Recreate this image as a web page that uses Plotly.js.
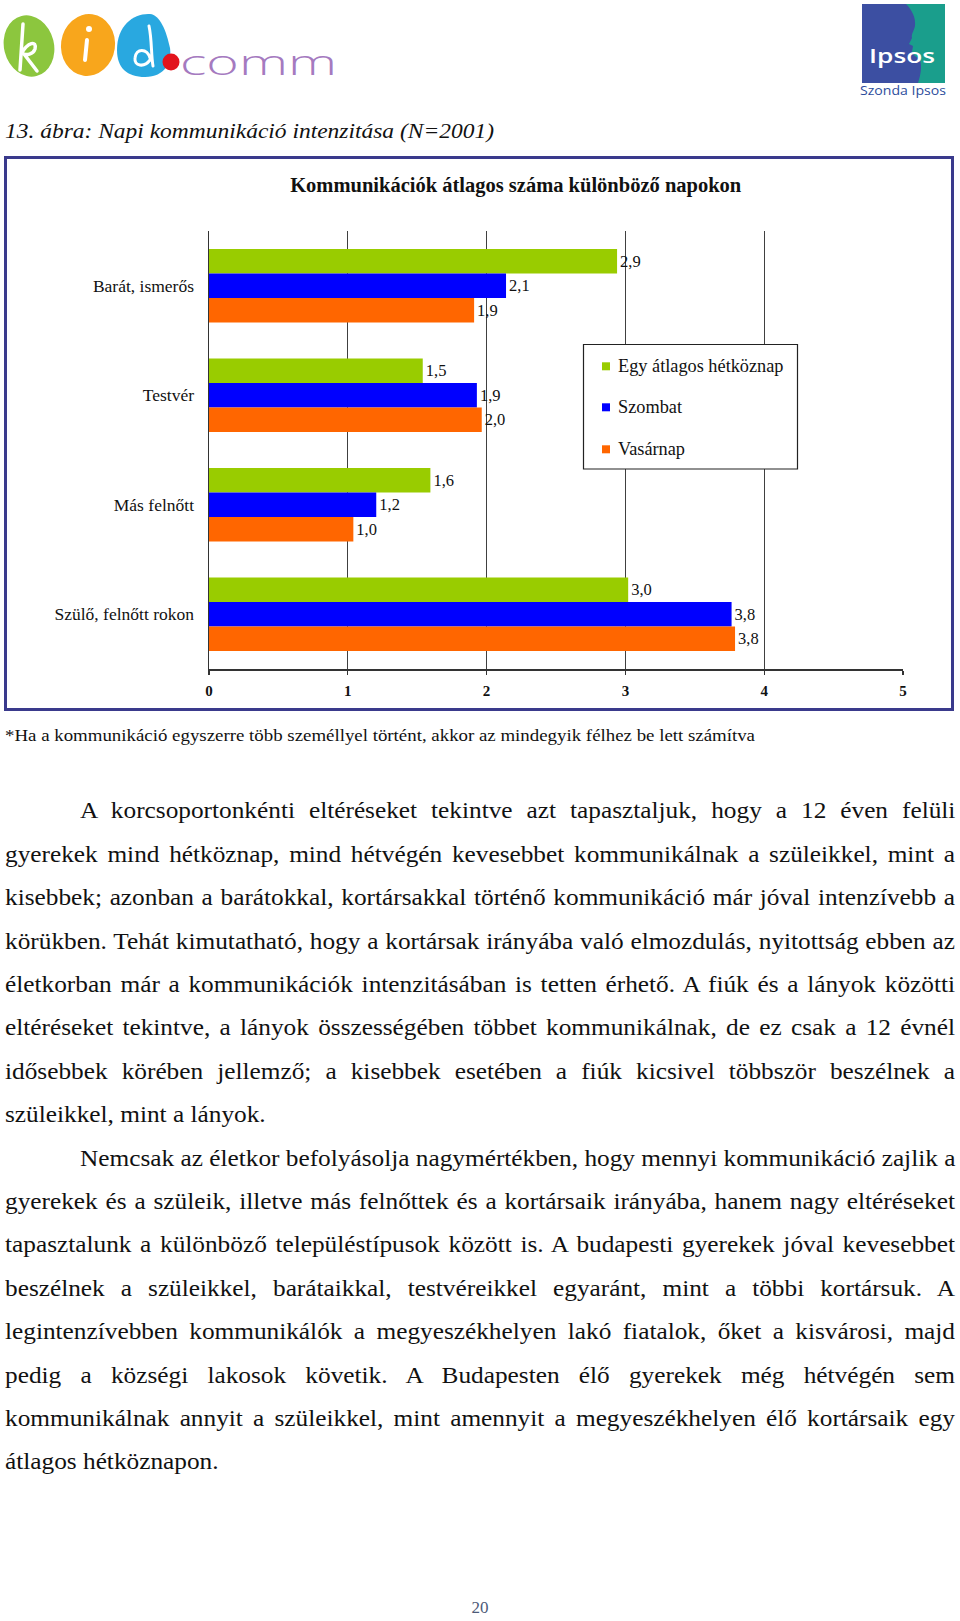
<!DOCTYPE html>
<html>
<head>
<meta charset="utf-8">
<script src="https://cdn.plot.ly/plotly-3.0.1.min.js"></script>
<style>
  html, body { margin:0; padding:0; background:#fff; }
  body { width:960px; height:1621px; position:relative; overflow:hidden; font-family:"Liberation Serif", serif; color:#111; }
  .abs { position:absolute; white-space:pre; }
  .fit span, .ln span { display:inline-block; transform-origin:0 50%; white-space:pre; }
  #frame { position:absolute; left:4px; top:156px; width:950px; height:555px; border:3px solid #3a3a8c; box-sizing:border-box; }
  #chart { position:absolute; left:0; top:0; width:960px; height:720px; }
  .ln { position:absolute; font-size:24px; line-height:43.4px; height:43.4px; white-space:pre; }
</style>
</head>
<body>
<svg width="960" height="110" style="position:absolute;left:0;top:0">
  <ellipse cx="29" cy="46" rx="25" ry="31" transform="rotate(-14 29 46)" fill="#8cc63e"/>
  <ellipse cx="88" cy="45" rx="27" ry="31" transform="rotate(8 88 45)" fill="#f8a61c"/>
  <path d="M117,50 C117,25 134,13 150,14 C160,15 166,30 170,48 C172,62 165,77 145,77 C127,77 117,68 117,50 Z" fill="#29a8e0"/>
  <path d="M23,24 L20,70 M21,54 C28,42 37,40 35,49 C33,55 26,55 24,54 L37,71" stroke="#fff" stroke-width="3.5" fill="none" stroke-linecap="round" stroke-linejoin="round"/>
  <path d="M87,40 L85,60" stroke="#fff" stroke-width="4" fill="none" stroke-linecap="round"/>
  <circle cx="89" cy="29" r="3" fill="#fff"/>
  <path d="M150,58 C147,48 136,48 135,58 C134,66 144,68 150,60 M149,26 C152,40 151,55 153,66" stroke="#fff" stroke-width="3" fill="none" stroke-linecap="round"/>
  <circle cx="171" cy="62" r="8.5" fill="#e2141d"/>
  <text x="180" y="75" font-family="Open Sans" font-weight="300" font-size="34" fill="#a57abf" textLength="157" lengthAdjust="spacingAndGlyphs">comm</text>
  <rect x="862" y="4" width="83" height="79" fill="#3c4fa2"/>
  <path d="M945,4 L906,4 C912,10 916,18 915,26 C914,31 911,34 912,38 L909,44 L913,46 L912,52 C913,56 918,57 920,60 C922,66 921,74 918,83 L945,83 Z" fill="#1a9e8c"/>
  <text x="902" y="63" font-family="Open Sans" font-weight="600" font-size="20" fill="#fff" text-anchor="middle" textLength="66" lengthAdjust="spacingAndGlyphs">Ipsos</text>
  <text x="903" y="95" font-family="Open Sans" font-size="12" fill="#2d4d9c" text-anchor="middle" textLength="86" lengthAdjust="spacingAndGlyphs">Szonda Ipsos</text>
</svg>

<div class="abs fit" data-w="489" style="left:5px;top:115.5px;font-size:20px;line-height:30px;font-style:italic;"><span>13. ábra: Napi kommunikáció intenzitása (N=2001)</span></div>

<div id="frame"></div>
<div id="chart"></div>

<div class="abs fit" data-w="750" style="left:5px;top:724px;font-size:16px;line-height:24px;"><span>*Ha a kommunikáció egyszerre több személlyel történt, akkor az mindegyik félhez be lett számítva</span></div>

<div id="bodytext"></div>

<div class="abs" style="left:0;width:960px;text-align:center;top:1598px;font-size:17px;line-height:20px;color:#4d5a78;">20</div>

<script>
// ---- chart data ----
const categories = ["Barát, ismerős", "Testvér", "Más felnőtt", "Szülő, felnőtt rokon"];
const seriesNames = ["Egy átlagos hétköznap", "Szombat", "Vasárnap"];
const weekday  = [2.94, 1.54, 1.595, 3.02];
const saturday = [2.14, 1.93, 1.205, 3.765];
const sunday   = [1.91, 1.965, 1.04, 3.79];
const xTicks   = [0, 1, 2, 3, 4, 5];
const seriesColors = ["#99cc00", "#0000ff", "#ff6600"];
const chartTitle = "Kommunikációk átlagos száma különböző napokon";

const fmt = v => v.toFixed(1).replace(".", ",");
const seriesValues = [weekday, saturday, sunday];

const traces = seriesValues.map((vals, i) => ({
  type: "bar",
  orientation: "h",
  name: seriesNames[i],
  y: categories,
  x: vals,
  text: vals.map(fmt),
  textposition: "outside",
  constraintext: "none",
  cliponaxis: false,
  textfont: { family: "Liberation Serif", size: 16.5, color: "#111" },
  marker: { color: seriesColors[i], line: { width: 0 } },
  hoverinfo: "none"
}));

// plot area in pixels (for decoration placement)
const PL = 209, PR = 903, PT = 231, PB = 669;
const px = x => (x - PL) / (PR - PL);
const py = y => (PB - y) / (PB - PT);

const legendY = [366.3, 407.3, 449.3];
const shapes = [{
  type: "rect", xref: "paper", yref: "paper",
  x0: px(583.5), x1: px(797.5), y0: py(469), y1: py(344.5),
  line: { color: "#222", width: 1.2 }, fillcolor: "#fff", layer: "above"
}];
const annotations = [];
seriesNames.forEach((n, i) => {
  shapes.push({
    type: "rect", xref: "paper", yref: "paper",
    x0: px(602), x1: px(610), y0: py(legendY[i] + 4), y1: py(legendY[i] - 4),
    line: { width: 0 }, fillcolor: seriesColors[i], layer: "above"
  });
  annotations.push({
    xref: "paper", yref: "paper", x: px(616), y: py(legendY[i]),
    xanchor: "left", yanchor: "middle", showarrow: false, text: n,
    font: { family: "Liberation Serif", size: 18.3, color: "#111" }
  });
});

const layout = {
  width: 960, height: 720,
  margin: { l: PL, r: 960 - PR, t: PT, b: 720 - PB, pad: 0 },
  paper_bgcolor: "rgba(0,0,0,0)", plot_bgcolor: "rgba(0,0,0,0)",
  barmode: "group", bargap: 0.33, bargroupgap: 0,
  showlegend: false,
  font: { family: "Liberation Serif", color: "#111" },
  title: {
    text: chartTitle,
    font: { family: "Liberation Serif", size: 20.5, weight: "bold", color: "#111" },
    xref: "container", yref: "container",
    x: 515.7 / 960, xanchor: "center",
    y: 1 - 185 / 720, yanchor: "middle"
  },
  xaxis: {
    range: [0, 5], tickvals: xTicks, ticktext: xTicks.map(String),
    showgrid: true, gridcolor: "#404040", gridwidth: 1.3,
    showline: true, linecolor: "#333", linewidth: 1.5,
    ticks: "outside", ticklen: 4, tickcolor: "#333", tickwidth: 1.3,
    zeroline: false, ticklabelstandoff: 3,
    tickfont: { family: "Liberation Serif", size: 15, weight: "bold", color: "#111" },
    fixedrange: true
  },
  yaxis: {
    type: "category", autorange: "reversed",
    showline: true, linecolor: "#333", linewidth: 1.5,
    showgrid: false, ticks: "", ticklabelstandoff: 10,
    tickfont: { family: "Liberation Serif", size: 17.5, color: "#111" },
    fixedrange: true
  },
  shapes: shapes,
  annotations: annotations
};

Plotly.newPlot("chart", traces, layout, { displayModeBar: false, staticPlot: true });

// ---- body text ----
const bodyLines = [
  ["A korcsoportonkénti eltéréseket tekintve azt tapasztaljuk, hogy a 12 éven felüli", 1, 1],
  ["gyerekek mind hétköznap, mind hétvégén kevesebbet kommunikálnak a szüleikkel, mint a", 0, 1],
  ["kisebbek; azonban a barátokkal, kortársakkal történő kommunikáció már jóval intenzívebb a", 0, 1],
  ["körükben. Tehát kimutatható, hogy a kortársak irányába való elmozdulás, nyitottság ebben az", 0, 1],
  ["életkorban már a kommunikációk intenzitásában is tetten érhető. A fiúk és a lányok közötti", 0, 1],
  ["eltéréseket tekintve, a lányok összességében többet kommunikálnak, de ez csak a 12 évnél", 0, 1],
  ["idősebbek körében jellemző; a kisebbek esetében a fiúk kicsivel többször beszélnek a", 0, 1],
  ["szüleikkel, mint a lányok.", 0, 0],
  ["Nemcsak az életkor befolyásolja nagymértékben, hogy mennyi kommunikáció zajlik a", 1, 1],
  ["gyerekek és a szüleik, illetve más felnőttek és a kortársaik irányába, hanem nagy eltéréseket", 0, 1],
  ["tapasztalunk a különböző településtípusok között is. A budapesti gyerekek jóval kevesebbet", 0, 1],
  ["beszélnek a szüleikkel, barátaikkal, testvéreikkel egyaránt, mint a többi kortársuk. A", 0, 1],
  ["legintenzívebben kommunikálók a megyeszékhelyen lakó fiatalok, őket a kisvárosi, majd", 0, 1],
  ["pedig a községi lakosok követik. A Budapesten élő gyerekek még hétvégén sem", 0, 1],
  ["kommunikálnak annyit a szüleikkel, mint amennyit a megyeszékhelyen élő kortársaik egy", 0, 1],
  ["átlagos hétköznapon.", 0, 0]
];
const bt = document.getElementById("bodytext");
const lineEls = bodyLines.map((l, i) => {
  const d = document.createElement("div");
  d.className = "ln";
  const left = l[1] ? 79.6 : 5;
  d.style.left = left + "px";
  d.style.top = (789.3 + 43.4 * i) + "px";
  const s = document.createElement("span");
  s.textContent = l[0];
  d.appendChild(s);
  bt.appendChild(d);
  return { span: s, target: 955 - left, justify: l[2], text: l[0] };
});

function layoutText() {
  let S = 1.15;
  lineEls.forEach(o => {
    const w = o.span.getBoundingClientRect().width;
    o.w = w;
    if (o.justify) S = Math.min(S, o.target / w);
  });
  lineEls.forEach(o => {
    if (o.justify) {
      const n = (o.text.match(/ /g) || []).length;
      const ws = (o.target / S - o.w) / n;
      o.span.style.wordSpacing = ws + "px";
    }
    o.span.style.transform = "scaleX(" + S + ")";
  });
  document.querySelectorAll(".fit").forEach(el => {
    const sp = el.querySelector("span");
    const w = sp.getBoundingClientRect().width;
    sp.style.transform = "scaleX(" + (parseFloat(el.dataset.w) / w) + ")";
  });
}
if (document.fonts && document.fonts.ready) document.fonts.ready.then(layoutText); else layoutText();
</script>
</body>
</html>
